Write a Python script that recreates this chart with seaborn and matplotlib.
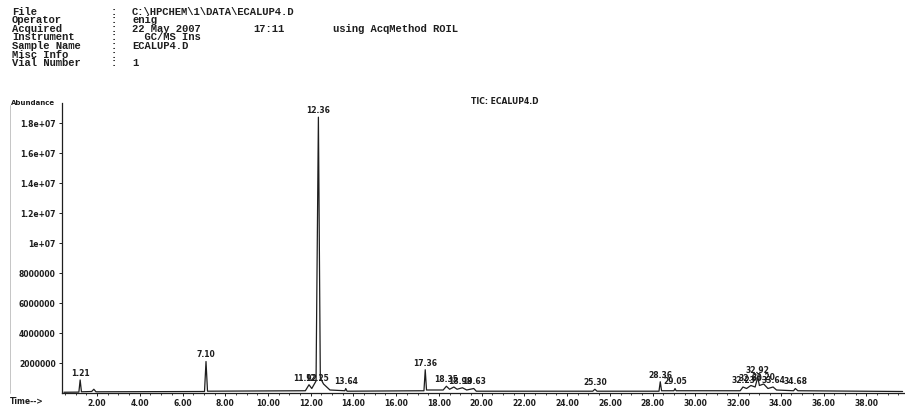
import numpy as np
import pandas as pd
import seaborn as sns
import matplotlib.pyplot as plt

# header of the printout: field names and values
header_keys = ["File", "Operator", "Acquired", "Instrument", "Sample Name",
               "Misc Info", "Vial Number"]
header_values = ["C:\\HPCHEM\\1\\DATA\\ECALUP4.D", "enig", "22 May 2007",
                 "  GC/MS Ins", "ECALUP4.D", "", "1"]
acq_time = "17:11"
acq_method = "using AcqMethod ROIL"

# TIC trace (time in min, abundance)
trace_time = [0.45, 1.15, 1.21, 1.27, 1.75, 1.85, 1.95, 7.03, 7.10, 7.17,
              11.75, 11.92, 12.05, 12.25, 12.36, 12.45, 12.6, 12.9, 13.6, 13.64,
              13.7, 17.3, 17.36, 17.42, 18.2, 18.35, 18.5, 18.7, 18.85, 19.1,
              19.3, 19.63, 19.75, 25.2, 25.30, 25.4, 28.3, 28.36, 28.42, 29.0,
              29.05, 29.1, 32.1, 32.23, 32.4, 32.6, 32.8, 32.92, 33.0, 33.2,
              33.4, 33.64, 33.8, 34.6, 34.68, 34.8, 39.7]
trace_abund = [0.05e6, 0.06e6, 0.87e6, 0.08e6, 0.1e6, 0.25e6, 0.08e6, 0.1e6, 2.1e6, 0.12e6,
               0.15e6, 0.55e6, 0.3e6, 0.8e6, 18.4e6, 1.0e6, 0.6e6, 0.2e6, 0.15e6, 0.3e6,
               0.12e6, 0.15e6, 1.55e6, 0.2e6, 0.2e6, 0.45e6, 0.25e6, 0.4e6, 0.25e6, 0.35e6,
               0.2e6, 0.3e6, 0.12e6, 0.12e6, 0.25e6, 0.12e6, 0.12e6, 0.75e6, 0.15e6, 0.15e6,
               0.3e6, 0.15e6, 0.15e6, 0.4e6, 0.3e6, 0.5e6, 0.4e6, 1.05e6, 0.5e6, 0.6e6,
               0.3e6, 0.4e6, 0.2e6, 0.15e6, 0.3e6, 0.15e6, 0.1e6]

# peak labels
peak_labels = ["1.21", "7.10", "11.92", "12.25", "12.36", "13.64", "17.36",
               "18.35", "18.98", "19.63", "25.30", "28.36", "29.05",
               "32.23", "32.60", "32.92", "33.20", "33.64", "34.68"]
peak_label_time = [1.21, 7.10, 11.75, 12.30, 12.36, 13.64, 17.36,
                   18.35, 18.98, 19.63, 25.30, 28.36, 29.05,
                   32.23, 32.60, 32.92, 33.20, 33.64, 34.68]
peak_label_abund = [0.87e6, 2.1e6, 0.55e6, 0.55e6, 18.4e6, 0.3e6, 1.55e6,
                    0.45e6, 0.35e6, 0.3e6, 0.25e6, 0.75e6, 0.3e6,
                    0.4e6, 0.5e6, 1.05e6, 0.6e6, 0.4e6, 0.3e6]

xtick_vals = [2, 4, 6, 8, 10, 12, 14, 16, 18, 20, 22, 24, 26, 28, 30, 32, 34, 36, 38]
xtick_labels = ["%d.00" % v for v in xtick_vals]
ytick_vals = [2e6, 4e6, 6e6, 8e6, 1e7, 1.2e7, 1.4e7, 1.6e7, 1.8e7]
ytick_labels = ["2000000", "4000000", "6000000", "8000000", "1e+07",
                "1.2e+07", "1.4e+07", "1.6e+07", "1.8e+07"]

df = pd.DataFrame({"time": trace_time, "abundance": trace_abund})

sns.set_style("white")
ink = "#1e1e1e"

fig = plt.figure(figsize=(9.05, 4.11), dpi=100)
ax = fig.add_axes([0.0685, 0.0438, 0.93, 0.705])

sns.lineplot(data=df, x="time", y="abundance", sort=False, estimator=None,
             color=ink, linewidth=0.9, ax=ax)

for lab, t, a in zip(peak_labels, peak_label_time, peak_label_abund):
    ax.annotate(lab, (t, a), xytext=(0, 1.5), textcoords="offset points",
                ha="center", va="bottom", fontsize=5.5, fontweight="bold", color=ink)

ax.set_xlim(0.36, 39.75)
ax.set_ylim(0, 1.933e7)
ax.set_xticks(xtick_vals)
ax.set_xticklabels(xtick_labels)
ax.set_xticks(np.arange(0.5, 39.6, 0.5), minor=True)
ax.set_yticks(ytick_vals)
ax.set_yticklabels(ytick_labels)
ax.set_xlabel("")
ax.set_ylabel("")
ax.tick_params(axis="both", which="major", direction="out", length=2.5, width=0.7,
               colors=ink, labelsize=5.5, pad=2)
ax.tick_params(axis="x", which="minor", direction="out", length=1.5, width=0.6, colors=ink)
ax.tick_params(axis="x", which="both", bottom=True)
ax.tick_params(axis="y", which="both", left=True)
for lbl in ax.get_xticklabels() + ax.get_yticklabels():
    lbl.set_fontweight("bold")

for side in ["top", "right"]:
    ax.spines[side].set_visible(False)
for side in ["left", "bottom"]:
    ax.spines[side].set_color(ink)
    ax.spines[side].set_linewidth(0.9)

# printout header, in columns like the original
mono = dict(family="Liberation Mono", fontweight="bold", fontsize=7.6, color=ink,
            va="center", ha="left")
for i, (k, v) in enumerate(zip(header_keys, header_values)):
    y = 1 - (11.7 + i * 8.6) / 411
    fig.text(12 / 905, y, k, **mono)
    fig.text(111 / 905, y, ":", **mono)
    if v:
        fig.text(132 / 905, y, v, **mono)
y_acq = 1 - (11.7 + 2 * 8.6) / 411
fig.text(253 / 905, y_acq, acq_time, **mono)
fig.text(333 / 905, y_acq, acq_method, **mono)

fig.text(0.558, 0.752, "TIC: ECALUP4.D", fontsize=5.5, fontweight="bold",
         color=ink, ha="center", va="center")
fig.text(0.012, 0.749, "Abundance", fontsize=5, fontweight="bold",
         color=ink, ha="left", va="center")
fig.text(0.011, 0.022, "Time-->", fontsize=5.5, fontweight="bold",
         color=ink, ha="left", va="center")
fig.add_artist(plt.Line2D([0.011, 0.011], [0.0438, 0.745], color="#bbbbbb", linewidth=0.6))

fig.savefig("out.png", dpi=100)
